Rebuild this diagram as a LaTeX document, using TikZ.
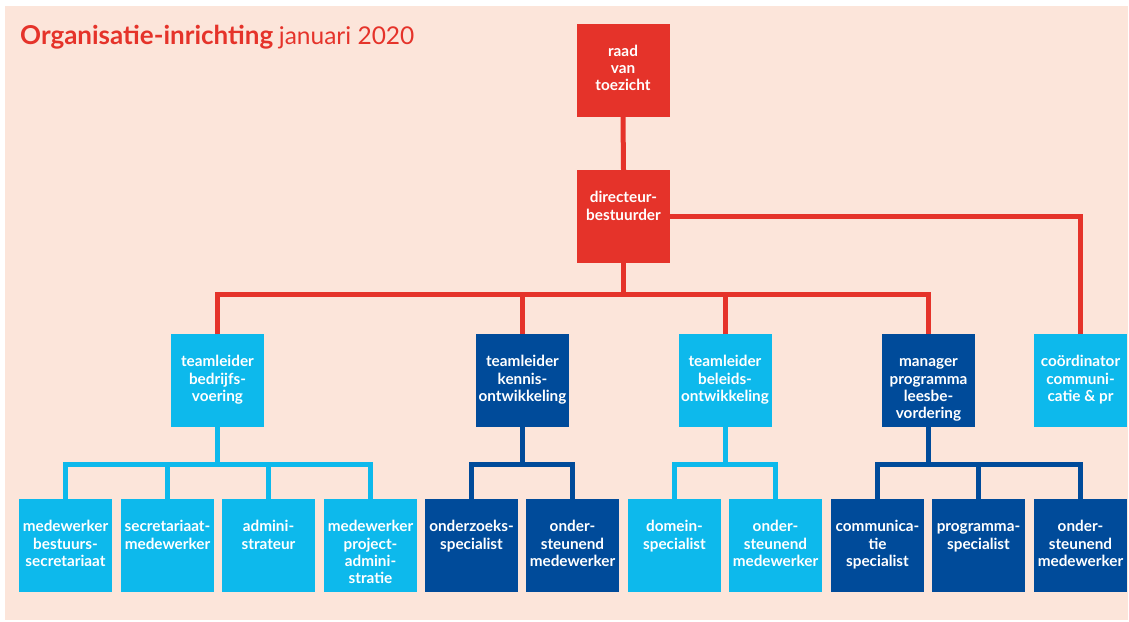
\documentclass[tikz,border=0pt]{standalone}
\usepackage{fontspec}
\setmainfont{Lato}
\definecolor{orgred}{RGB}{229,51,42}
\definecolor{lblue}{RGB}{13,185,236}
\definecolor{dblue}{RGB}{0,75,154}
\definecolor{peach}{RGB}{252,229,218}
\newcommand\cardtxt[1]{\parbox[c][93pt][t]{93pt}{\centering
  \leftskip=0pt plus 1fil minus 12pt\rightskip=0pt plus 1fil minus 12pt
  \hyphenpenalty=10000 \exhyphenpenalty=10000 \hbadness=10000 \hfuzz=30pt
  \rule{0pt}{32.8pt}#1}}
\tikzset{
  card/.style={fill=#1, inner sep=0pt, outer sep=0pt, text=white,
    font=\fontsize{15.3}{17.3}\selectfont\bfseries},
  link/.style={draw=#1, line width=5pt, line join=miter, line cap=butt},
}
\begin{document}
\begin{tikzpicture}[x=1pt,y=-1pt]
\useasboundingbox (0,0) rectangle (1129,621);
\fill[white] (0,0) rectangle (1129,621);
\fill[peach] (5,6) rectangle (1128,620);
\node[anchor=base west, text=orgred, inner sep=0pt, font=\fontsize{26}{30}\selectfont] (title) at (20,44.5)
  {\textbf{Organisatie-inrichting}\hspace{0.22em}{\fontsize{24.5}{30}\selectfont januari 2020}};
% bus levels
\coordinate (bus) at (0,294);
\coordinate (sub) at (0,464);
% boxes
\node[card=orgred] (raad) at (623,70) {\cardtxt{raad\\van\\toezicht}};
\node[card=orgred] (dir) at (623.5,216.5) {\cardtxt{directeur-\\bestuurder}};
\node[card=lblue] (tlb) at (217.5,380.5) {\cardtxt{teamleider\\bedrijfs-\\voering}};
\node[card=dblue] (tlk) at (522.5,380.5) {\cardtxt{teamleider\\kennis-\\ontwikkeling}};
\node[card=lblue] (tlo) at (725,380.5) {\cardtxt{teamleider\\beleids-\\ontwikkeling}};
\node[card=dblue] (mgr) at (928.5,380.5) {\cardtxt{manager\\programma\\leesbe-\\vordering}};
\node[card=lblue] (coo) at (1080.5,380.5) {\cardtxt{coördinator\\communi-\\catie \& pr}};
\node[card=lblue] (b1) at (65.5,545.5) {\cardtxt{medewerker\\bestuurs-\\secretariaat}};
\node[card=lblue] (b2) at (167.5,545.5) {\cardtxt{secretariaat-\\medewerker}};
\node[card=lblue] (b3) at (268.5,545.5) {\cardtxt{admini-\\strateur}};
\node[card=lblue] (b4) at (370.5,545.5) {\cardtxt{medewerker\\project-\\admini-\\stratie}};
\node[card=dblue] (k1) at (471.5,545.5) {\cardtxt{onderzoeks-\\specialist}};
\node[card=dblue] (k2) at (572.5,545.5) {\cardtxt{onder-\\steunend\\medewerker}};
\node[card=lblue] (o1) at (674.5,545.5) {\cardtxt{domein-\\specialist}};
\node[card=lblue] (o2) at (775.5,545.5) {\cardtxt{onder-\\steunend\\medewerker}};
\node[card=dblue] (m1) at (877.5,545.5) {\cardtxt{communica-\\tie\\specialist}};
\node[card=dblue] (m2) at (978.5,545.5) {\cardtxt{programma-\\specialist}};
\node[card=dblue] (m3) at (1080.5,545.5) {\cardtxt{onder-\\steunend\\medewerker}};
% red links
\draw[link=orgred] (raad.south) -- (dir.north);
\draw[link=orgred] (dir.east) -| (coo.north);
\draw[link=orgred] (dir.south) -- (dir.south |- bus);
\draw[link=orgred] (tlb.north) |- (mgr.north |- bus) -- (mgr.north);
\draw[link=orgred] (tlk.north) -- (tlk.north |- bus);
\draw[link=orgred] (tlo.north) -- (tlo.north |- bus);
% sub links
\draw[link=lblue] (tlb.south) -- (tlb.south |- sub);
\draw[link=lblue] (b1.north) |- (b4.north |- sub) -- (b4.north);
\draw[link=lblue] (b2.north) -- (b2.north |- sub);
\draw[link=lblue] (b3.north) -- (b3.north |- sub);
\draw[link=dblue] (tlk.south) -- (tlk.south |- sub);
\draw[link=dblue] (k1.north) |- (k2.north |- sub) -- (k2.north);
\draw[link=lblue] (tlo.south) -- (tlo.south |- sub);
\draw[link=lblue] (o1.north) |- (o2.north |- sub) -- (o2.north);
\draw[link=dblue] (mgr.south) -- (mgr.south |- sub);
\draw[link=dblue] (m1.north) |- (m3.north |- sub) -- (m3.north);
\draw[link=dblue] (m2.north) -- (m2.north |- sub);
\end{tikzpicture}
\end{document}
